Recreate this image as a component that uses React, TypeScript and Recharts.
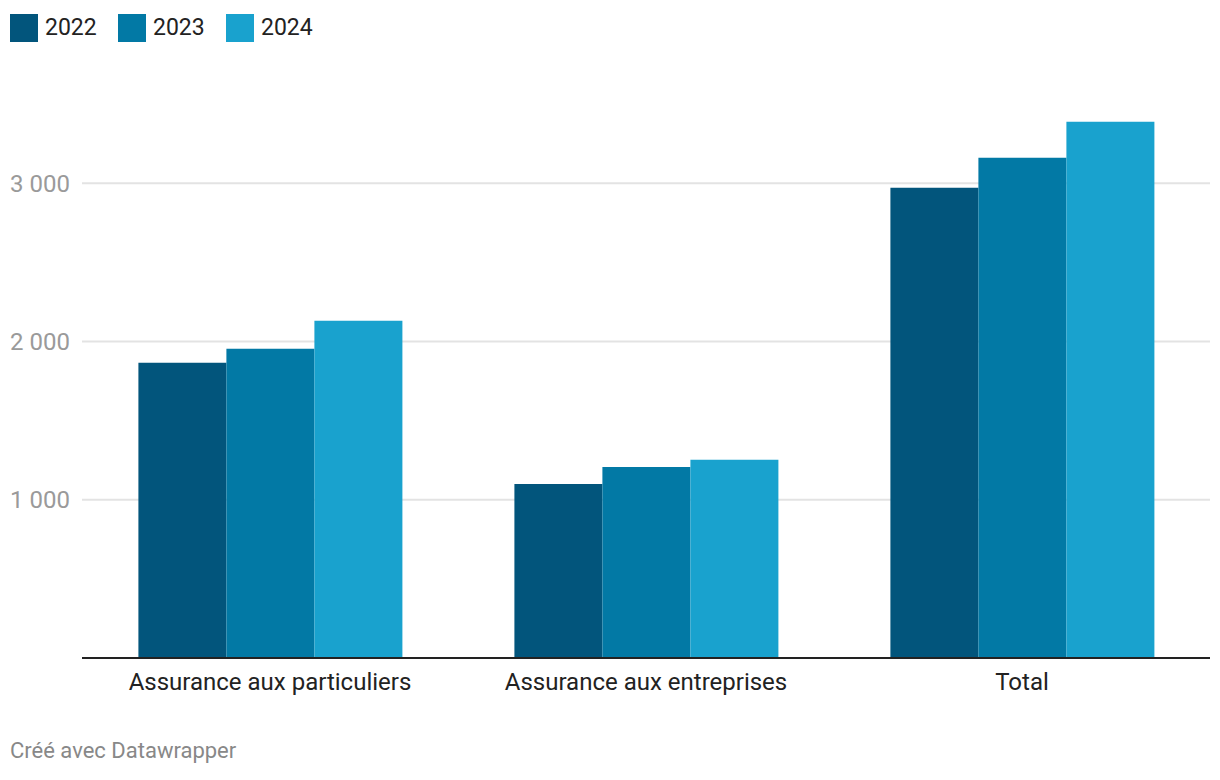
import React from 'react';
import { BarChart, Bar, XAxis, YAxis, CartesianGrid } from 'recharts';

const categories = ['Assurance aux particuliers', 'Assurance aux entreprises', 'Total'];
const years = ['2022', '2023', '2024'];
const values2022 = [1865, 1100, 2971];
const values2023 = [1953, 1207, 3160];
const values2024 = [2130, 1252, 3388];
const yTicks = [1000, 2000, 3000];

const colors = ['#02557c', '#0279a5', '#19a2ce'];
const legendLeft = [10, 118, 226];

const data = categories.map((name, i) => ({
  name,
  y2022: values2022[i],
  y2023: values2023[i],
  y2024: values2024[i],
}));

const FONT = 'Roboto, "Noto Sans", sans-serif';

const fmt = (v: number) => {
  const s = String(Math.round(v));
  return s.replace(/\B(?=(\d{3})+(?!\d))/g, ' ');
};

const YTick = (props: any) => {
  const { y, payload } = props;
  return (
    <text x={10} y={y} dy="0.36em" textAnchor="start" fontSize={24} fill="#9a9a9a" fontFamily={FONT}>
      {fmt(payload.value)}
    </text>
  );
};

const XTick = (props: any) => {
  const { x, payload } = props;
  return (
    <text x={x} y={690} textAnchor="middle" fontSize={24} fill="#222" fontFamily={FONT}>
      {payload.value}
    </text>
  );
};

const Legend = () => (
  <div style={{ fontFamily: FONT }}>
    {years.map((y, i) => (
      <div
        key={y}
        style={{ position: 'absolute', left: legendLeft[i], top: 14, display: 'flex', alignItems: 'center' }}
      >
        <div style={{ width: 28, height: 28, background: colors[i], marginRight: 7 }} />
        <span style={{ fontSize: 23, color: '#222', lineHeight: '28px' }}>{y}</span>
      </div>
    ))}
  </div>
);

export default function App() {
  const keys = ['y2022', 'y2023', 'y2024'];
  return (
    <div style={{ position: 'absolute', left: 0, top: 0, width: 1220, height: 780, background: '#fff' }}>
      <Legend />
      <BarChart
        width={1220}
        height={780}
        data={data}
        margin={{ top: 104, right: 10, bottom: 82, left: 0 }}
        barCategoryGap="15%"
        barGap={0}
      >
        <CartesianGrid vertical={false} stroke="#e3e3e3" strokeWidth={2} horizontalValues={yTicks} />
        <YAxis
          width={82}
          domain={[0, 3500]}
          ticks={yTicks}
          axisLine={false}
          tickLine={false}
          tick={<YTick />}
        />
        <XAxis
          dataKey="name"
          height={40}
          axisLine={{ stroke: '#222', strokeWidth: 2 }}
          tickLine={false}
          tick={<XTick />}
        />
        {keys.map((k, i) => (
          <Bar key={k} dataKey={k} name={years[i]} fill={colors[i]} isAnimationActive={false} />
        ))}
      </BarChart>
      <div
        style={{ position: 'absolute', left: 10, top: 738, fontSize: 22, color: '#888', fontFamily: FONT }}
      >
        Créé avec Datawrapper
      </div>
    </div>
  );
}
